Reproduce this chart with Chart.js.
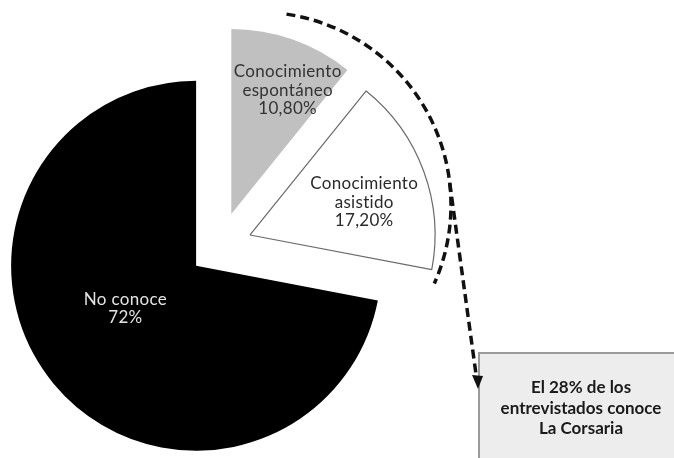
<!DOCTYPE html>
<html>
<head>
<meta charset="utf-8">
<script src="https://cdn.jsdelivr.net/npm/chart.js@4.4.1/dist/chart.umd.min.js"></script>
<style>
  html, body { margin: 0; padding: 0; background: #fff; }
  #wrap { width: 674px; height: 458px; }
</style>
</head>
<body>
<div id="wrap"><canvas id="pieChart" width="674" height="458"></canvas></div>
<script>
// awareness of the brand, share of respondents (%)
const categories = ["Conocimiento espontáneo", "Conocimiento asistido", "No conoce"];
const shares = [10.8, 17.2, 72];
const sliceLabels = [
  ["Conocimiento", "espontáneo", "10,80%"],
  ["Conocimiento", "asistido", "17,20%"],
  ["No conoce", "72%"]
];
const calloutLines = ["El 28% de los", "entrevistados conoce", "La Corsaria"];

const sliceColors = ["#c0c0c0", "#ffffff", "#000000"];
const sliceBorders = ["#c0c0c0", "#6a6a6a", "#000000"];
const explode = [34, 32, 31];           // px each slice is pulled out
const labelColors = ["#333333", "#2a2a2a", "#e4e4e4"];
const labelDist = [0.72, 0.64, 0.44];   // fraction of radius
const labelNudge = [[12, 2], [3, 8], [-8, -9]];
const FONT = "Lato, 'Open Sans', sans-serif";

// pull slices out along their mid angle (all three, like an exploded pie)
const explodePlugin = {
  id: "explode",
  afterDatasetUpdate(chart, args) {
    args.meta.data.forEach((arc, i) => {
      const mid = (arc.startAngle + arc.endAngle) / 2;
      arc.x += Math.cos(mid) * explode[i];
      arc.y += Math.sin(mid) * explode[i];
    });
  }
};

const sliceLabelPlugin = {
  id: "sliceLabels",
  afterDatasetsDraw(chart) {
    const ctx = chart.ctx;
    const meta = chart.getDatasetMeta(0);
    ctx.save();
    ctx.font = "17px " + FONT;
    ctx.letterSpacing = "0.3px";
    ctx.textAlign = "center";
    ctx.textBaseline = "middle";
    meta.data.forEach((arc, i) => {
      const mid = (arc.startAngle + arc.endAngle) / 2;
      const r = arc.outerRadius * labelDist[i];
      const cx = arc.x + Math.cos(mid) * r + labelNudge[i][0];
      const cy = arc.y + Math.sin(mid) * r + labelNudge[i][1];
      const lines = sliceLabels[i];
      const lh = 18.5;
      ctx.fillStyle = labelColors[i];
      lines.forEach((t, k) => {
        ctx.fillText(t, cx, cy + (k - (lines.length - 1) / 2) * lh);
      });
    });
    ctx.restore();
  }
};

// dashed bracket around the two "conoce" slices, arrow and callout box
const calloutPlugin = {
  id: "callout",
  afterDraw(chart) {
    const ctx = chart.ctx;
    const a = chart.chartArea;
    const pcx = (a.left + a.right) / 2;
    const pcy = (a.top + a.bottom) / 2;
    const bx = pcx + 38, by = pcy - 41, br = 193;
    const deg = Math.PI / 180;

    ctx.save();
    ctx.strokeStyle = "#111";
    ctx.lineWidth = 3.5;
    ctx.setLineDash([9, 5]);
    ctx.beginPath();
    ctx.arc(bx, by, br, -81.5 * deg, 24 * deg);
    ctx.stroke();

    // callout box
    const boxX = 479, boxY = 353;
    ctx.setLineDash([]);
    ctx.fillStyle = "#ededed";
    ctx.fillRect(boxX, boxY, 220, 120);
    ctx.strokeStyle = "#9a9a9a";
    ctx.lineWidth = 2;
    ctx.strokeRect(boxX, boxY, 220, 120);

    // arrow from the bracket down to the box edge
    const sx = bx + br * Math.cos(-6.5 * deg);
    const sy = by + br * Math.sin(-6.5 * deg);
    const tipX = boxX - 1, tipY = boxY + 36;
    ctx.strokeStyle = "#111";
    ctx.lineWidth = 3.5;
    ctx.setLineDash([9, 5]);
    ctx.beginPath();
    ctx.moveTo(sx, sy);
    ctx.lineTo(tipX - 1.6, tipY - 12);
    ctx.stroke();
    ctx.setLineDash([]);
    ctx.fillStyle = "#111";
    ctx.beginPath();
    ctx.moveTo(tipX, tipY);
    ctx.lineTo(tipX - 6, tipY - 14);
    ctx.lineTo(tipX + 5, tipY - 13);
    ctx.closePath();
    ctx.fill();

    ctx.fillStyle = "#1a1a1a";
    ctx.font = "bold 17px " + FONT;
    ctx.textAlign = "center";
    ctx.textBaseline = "middle";
    calloutLines.forEach((t, k) => {
      ctx.fillText(t, 581, 388 + k * 20.5);
    });
    ctx.restore();
  }
};

new Chart(document.getElementById("pieChart"), {
  type: "pie",
  data: {
    labels: categories,
    datasets: [{
      data: shares,
      backgroundColor: sliceColors,
      borderColor: sliceBorders,
      borderWidth: [0, 1.2, 0]
    }]
  },
  options: {
    responsive: false,
    animation: false,
    radius: 185,
    rotation: 0,
    layout: { padding: { left: 0, right: 234, top: 34, bottom: 0 } },
    plugins: {
      legend: { display: false },
      tooltip: { enabled: false }
    }
  },
  plugins: [explodePlugin, sliceLabelPlugin, calloutPlugin]
});
</script>
</body>
</html>
